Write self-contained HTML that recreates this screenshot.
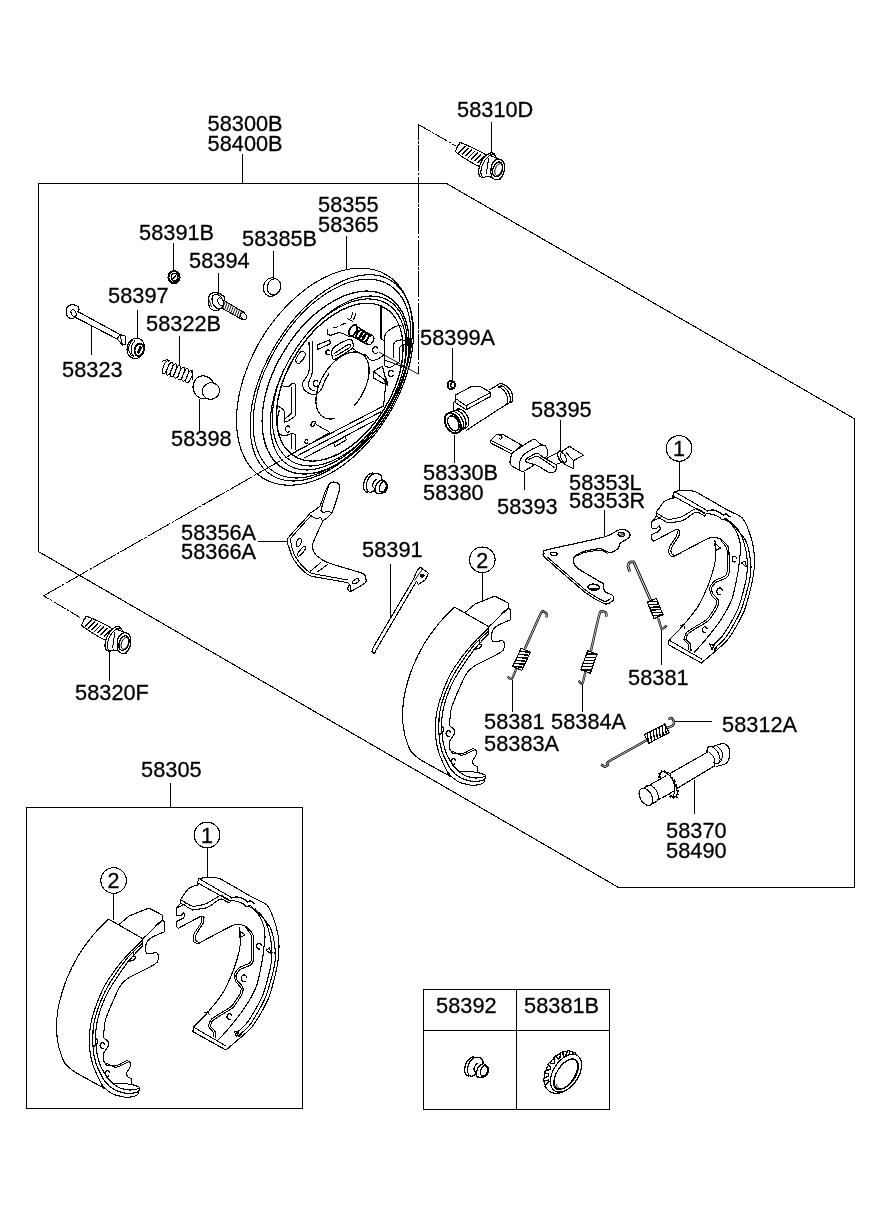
<!DOCTYPE html>
<html><head><meta charset="utf-8"><title>Rear wheel brake</title>
<style>
html,body{margin:0;padding:0;background:#fff;}
svg{display:block;will-change:transform;font-family:"Liberation Sans",Arial,sans-serif;}
svg *{stroke:#000;shape-rendering:crispEdges;stroke-linecap:butt;stroke-linejoin:round;}
svg text{stroke:#000;stroke-width:0.3px;fill:#000;}
</style></head><body>
<svg width="886" height="1211" viewBox="0 0 886 1211">
<rect x="0" y="0" width="886" height="1211" fill="#fff" style="stroke:none"/>
<path d="M38.5 183.5 L446.5 183.5 L854.5 418.8 L854.5 887.2 L618.0 887.2 L38.5 551.6 Z" stroke-width="1.1" fill="none" />
<line x1="242.5" y1="154" x2="242.5" y2="183.5" stroke-width="1.1" />
<rect x="26.5" y="807.5" width="276" height="301" stroke-width="1.1" fill="none"/>
<line x1="170.5" y1="783" x2="170.5" y2="807" stroke-width="1.1" />
<rect x="423.5" y="989.5" width="186" height="120" stroke-width="1.1" fill="none"/>
<line x1="423.5" y1="1030.5" x2="609.5" y2="1030.5" stroke-width="1.1" />
<line x1="516.5" y1="989.5" x2="516.5" y2="1109.5" stroke-width="1.1" />
<line x1="418.5" y1="124.5" x2="418.5" y2="374.3" stroke-width="1.0" stroke-dasharray="26 1.5 2.5 1.5" stroke-dashoffset="11"/>
<line x1="418.5" y1="124.5" x2="456" y2="146" stroke-width="1.0" stroke-dasharray="14 1.5 2.5 1.5"/>
<line x1="43.6" y1="595.8" x2="80" y2="617.5" stroke-width="1.0" stroke-dasharray="14 1.5 2.5 1.5" stroke-dashoffset="8"/>
<text transform="translate(207.6 130.5) scale(0.972 1)" font-size="22.4">58300B</text>
<text transform="translate(207.6 150.5) scale(0.972 1)" font-size="22.4">58400B</text>
<text transform="translate(457.1 116.5) scale(0.972 1)" font-size="22.4">58310D</text>
<text transform="translate(318.1 211.5) scale(0.972 1)" font-size="22.4">58355</text>
<text transform="translate(318.1 231.5) scale(0.972 1)" font-size="22.4">58365</text>
<text transform="translate(139.1 240.0) scale(0.972 1)" font-size="22.4">58391B</text>
<text transform="translate(242.1 245.5) scale(0.972 1)" font-size="22.4">58385B</text>
<text transform="translate(189.1 267.5) scale(0.972 1)" font-size="22.4">58394</text>
<text transform="translate(108.1 303.0) scale(0.972 1)" font-size="22.4">58397</text>
<text transform="translate(146.1 330.5) scale(0.972 1)" font-size="22.4">58322B</text>
<text transform="translate(62.1 376.5) scale(0.972 1)" font-size="22.4">58323</text>
<text transform="translate(171.1 446.0) scale(0.972 1)" font-size="22.4">58398</text>
<text transform="translate(420.1 344.5) scale(0.972 1)" font-size="22.4">58399A</text>
<text transform="translate(531.1 416.5) scale(0.972 1)" font-size="22.4">58395</text>
<text transform="translate(423.1 479.7) scale(0.972 1)" font-size="22.4">58330B</text>
<text transform="translate(423.1 500.0) scale(0.972 1)" font-size="22.4">58380</text>
<text transform="translate(497.1 513.5) scale(0.972 1)" font-size="22.4">58393</text>
<text transform="translate(569.1 490.0) scale(0.972 1)" font-size="22.4">58353L</text>
<text transform="translate(569.1 507.5) scale(0.972 1)" font-size="22.4">58353R</text>
<text transform="translate(181.1 539.5) scale(0.972 1)" font-size="22.4">58356A</text>
<text transform="translate(181.1 558.5) scale(0.972 1)" font-size="22.4">58366A</text>
<text transform="translate(362.1 557.0) scale(0.972 1)" font-size="22.4">58391</text>
<text transform="translate(628.1 684.5) scale(0.972 1)" font-size="22.4">58381</text>
<text transform="translate(484.1 728.5) scale(0.972 1)" font-size="22.4">58381</text>
<text transform="translate(551.1 728.5) scale(0.972 1)" font-size="22.4">58384A</text>
<text transform="translate(484.1 750.5) scale(0.972 1)" font-size="22.4">58383A</text>
<text transform="translate(722.1 731.5) scale(0.972 1)" font-size="22.4">58312A</text>
<text transform="translate(666.1 837.5) scale(0.972 1)" font-size="22.4">58370</text>
<text transform="translate(666.1 858.2) scale(0.972 1)" font-size="22.4">58490</text>
<text transform="translate(75.1 699.5) scale(0.972 1)" font-size="22.4">58320F</text>
<text transform="translate(141.1 777.1) scale(0.972 1)" font-size="22.4">58305</text>
<text transform="translate(436.1 1012.8) scale(0.972 1)" font-size="22.4">58392</text>
<text transform="translate(524.1 1012.8) scale(0.972 1)" font-size="22.4">58381B</text>
<ellipse cx="325.0" cy="376.7" rx="118.94" ry="74.02" transform="rotate(-58.6 325.0 376.7)" stroke-width="1.1" fill="#fff" />
<ellipse cx="331.3" cy="377.85" rx="114.21" ry="64.73" transform="rotate(-58.6 331.3 377.85)" stroke-width="1.1" fill="none" />
<ellipse cx="331.95" cy="378.55" rx="109.87" ry="63.53" transform="rotate(-58.6 331.95 378.55)" stroke-width="1.1" fill="none" />
<ellipse cx="335.6" cy="382.55" rx="100.61" ry="60.36" transform="rotate(-58.6 335.6 382.55)" stroke-width="1.3" fill="none" />
<ellipse cx="338.7" cy="383.0" rx="96.36" ry="54.42" transform="rotate(-58.6 338.7 383.0)" stroke-width="1.1" fill="none" />
<ellipse cx="339.15" cy="382.45" rx="92.04" ry="54.57" transform="rotate(-58.6 339.15 382.45)" stroke-width="1.1" fill="none" />
<ellipse cx="339.75" cy="382.15" rx="86.8" ry="51.81" transform="rotate(-58.6 339.75 382.15)" stroke-width="1.4" fill="none" />
<path d="M335.0 418.5 L331.5 419.0 L328.3 418.9 L325.3 418.1 L322.7 416.7 L320.4 414.7 L318.6 412.2 L317.2 409.1 L316.3 405.6 L315.9 401.7 L316.0 397.5 L316.7 393.0 L317.8 388.5 L319.4 383.8 L321.4 379.2 L323.9 374.7 L326.7 370.4 L329.8 366.4 L333.2 362.8 L336.7 359.6 L340.4 356.9 L344.1 354.8 L347.7 353.2 L351.3 352.3 L354.7 352.0 L357.8 352.3 L360.7 353.3 L363.2 354.9 L365.3 357.1 L367.0 359.9 L368.2 363.1 L368.9 366.8 L369.1 370.8 L368.8 375.1 L368.0 379.6 L366.7 384.2 L364.9 388.8 L362.7 393.4 L360.1 397.9 L357.2 402.0 L354.0 405.9" stroke-width="1.2" fill="none" />
<path d="M309.0 341.9 C309.0 346.8 310.1 364.2 309.0 371.0 C307.9 377.8 303.5 379.7 302.7 382.8 C301.9 385.9 302.9 387.6 304.0 389.4 C305.1 391.2 307.3 392.6 309.3 393.4 C311.3 394.2 313.9 394.8 315.9 394.1 C317.9 393.4 319.7 391.7 321.2 389.4 C322.7 387.1 323.8 382.8 325.1 380.2 C326.4 377.6 328.4 374.7 329.1 373.6" stroke-width="1.1" fill="none" />
<path d="M312.6 341.0 C312.6 346.0 313.3 364.0 312.6 371.0 C311.9 378.0 309.0 379.9 308.5 382.8 C308.0 385.7 308.8 387.1 309.8 388.5 C310.8 389.9 313.7 390.6 314.5 391.0" stroke-width="1.1" fill="none" />
<path d="M317.9 385.2 A2.6 3.1 0 1 1 317.9 381.8" stroke-width="1.2" fill="none" />
<path d="M295.9 359.0 C296.6 357.2 299.5 352.7 301.0 351.6 C302.5 350.5 304.0 351.8 304.7 352.4 C305.4 353.0 306.3 353.5 305.4 355.3 C304.5 357.1 301.0 362.2 299.5 363.4 C298.0 364.6 297.2 363.3 296.6 362.6 C296.0 361.9 295.2 360.8 295.9 359.0 Z" stroke-width="1.1" fill="none" />
<path d="M317.1 345.0 L329.6 339.9 L330.4 343.6 L317.9 349.4 Z" stroke-width="1.1" fill="none" />
<path d="M331.8 351.6 C332.0 349.9 331.4 349.1 334.0 347.2 C336.6 345.2 344.3 341.1 347.2 339.9 C350.1 338.7 350.6 339.2 351.6 339.9 C352.6 340.6 353.1 342.8 353.1 344.3 C353.1 345.8 354.5 346.2 351.6 348.7 C348.7 351.1 338.7 357.5 335.5 359.0 C332.3 360.5 333.2 358.7 332.6 357.5 C332.0 356.3 331.6 353.3 331.8 351.6 Z" stroke-width="1.2" fill="none" />
<path d="M334.0 353.5 C336.4 352.0 346.1 345.3 348.7 344.3 C351.3 343.3 351.7 345.6 349.5 347.5 C347.3 349.4 337.8 354.6 335.5 356.0" stroke-width="1.1" fill="none" />
<path d="M329.7 353.7 A2.0 2.4 0 1 1 329.7 351.1" stroke-width="1.2" fill="none" />
<path d="M327.4 328.9 L327.4 334.0 L330.4 335.5 L338.4 332.6 L342.8 333.3 L350.2 337.0" stroke-width="1.1" fill="none" />
<line x1="332.6" y1="328.2" x2="338.4" y2="326.7" stroke-width="1.0" />
<line x1="340" y1="325.5" x2="346" y2="323" stroke-width="1.0" />
<line x1="347.2" y1="318.6" x2="353.1" y2="321.5" stroke-width="1.0" />
<line x1="353.1" y1="312" x2="350.5" y2="319" stroke-width="1.0" />
<line x1="356" y1="313" x2="353.5" y2="320" stroke-width="1.0" />
<line x1="354.6" y1="325.2" x2="372.2" y2="335.5" stroke-width="1.1" />
<line x1="350.9" y1="335.5" x2="367.8" y2="345" stroke-width="1.1" />
<ellipse cx="353" cy="330.4" rx="3.3" ry="6" transform="rotate(30 353 330.4)" stroke-width="1.8" fill="none" />
<ellipse cx="359.5" cy="334.2" rx="2.4" ry="4.6" transform="rotate(30 359.5 334.2)" stroke-width="1.8" fill="none" />
<ellipse cx="362.5" cy="336" rx="2.4" ry="4.6" transform="rotate(30 362.5 336)" stroke-width="1.8" fill="none" />
<ellipse cx="365.5" cy="337.7" rx="2.4" ry="4.6" transform="rotate(30 365.5 337.7)" stroke-width="1.8" fill="none" />
<ellipse cx="370.3" cy="340.2" rx="3.0" ry="5.0" transform="rotate(30 370.3 340.2)" stroke-width="1.3" fill="#fff" />
<path d="M353.1 348.7 C354.3 349.6 358.2 352.7 360.4 353.8 C362.6 354.9 364.7 354.3 366.3 355.3 C367.9 356.3 368.3 359.0 370.0 359.7 C371.7 360.4 374.5 360.3 376.6 359.7 C378.7 359.1 380.9 356.9 382.4 356.0 C383.9 355.1 384.9 354.8 385.4 354.6" stroke-width="1.1" fill="none" />
<path d="M377.9 352.0 A2.8 3.4 0 1 1 377.9 348.4" stroke-width="1.2" fill="none" />
<path d="M381.0 306.1 L381.0 338.4 L384.6 341.4" stroke-width="1.1" fill="none" />
<path d="M384.6 366.0 C384.6 361.9 384.5 346.7 384.6 341.4 C384.7 336.1 384.5 336.0 385.4 334.0 C386.3 332.0 387.5 331.1 389.8 329.6 C392.1 328.1 397.4 325.7 399.3 325.2 C401.2 324.7 401.1 326.4 401.5 326.7" stroke-width="1.1" fill="none" />
<path d="M393.4 357.5 C393.4 355.6 393.0 348.5 393.4 345.8 C393.8 343.1 394.2 342.4 395.6 341.4 C397.0 340.4 399.8 339.9 401.5 339.9 C403.2 339.9 405.2 341.1 405.9 341.4" stroke-width="1.1" fill="none" />
<path d="M405.9 344.3 C405.2 344.6 402.6 345.1 401.5 345.8 C400.4 346.5 399.7 346.5 399.3 348.7 C398.9 350.9 399.3 357.3 399.3 359.0" stroke-width="1.1" fill="none" />
<path d="M384.6 366.0 L389.8 367.8 L399.3 362.0 L399.3 359.0" stroke-width="1.0" fill="none" />
<line x1="385.4" y1="360.4" x2="405.9" y2="367.8" stroke-width="1.0" />
<path d="M373.6 371.4 L382.4 366.3 L386.8 383.9 L383.9 383.9 L373.6 378.0 Z" stroke-width="1.1" fill="none" />
<line x1="373.6" y1="371.4" x2="386" y2="381" stroke-width="1.0" />
<path d="M393.2 375.3 A2.6 3.1 0 1 1 393.2 371.9" stroke-width="1.2" fill="none" />
<path d="M384 381 L388 386 L386.5 379 Z" stroke-width="1.0" fill="#000" />
<path d="M280.9 385.5 C282.1 385.7 286.2 387.1 288.1 386.8 C290.0 386.5 290.9 383.9 292.1 383.5 C293.3 383.1 294.8 384.1 295.4 384.2" stroke-width="1.1" fill="none" />
<path d="M295.4 384.2 L295.4 415.9 L288.1 421.1 L284.8 421.1" stroke-width="1.1" fill="none" />
<path d="M291.4 386.8 L291.4 413.2 L285.5 418.5" stroke-width="1.1" fill="none" />
<path d="M275.6 405.3 C276.5 405.7 279.5 407.0 280.9 407.9 C282.3 408.8 283.6 410.2 284.2 410.6" stroke-width="1.1" fill="none" />
<line x1="284.2" y1="410.6" x2="284.2" y2="422.5" stroke-width="1.1" />
<path d="M279.5 410.0 C279.2 411.3 277.9 414.6 277.6 418.0 C277.3 421.4 277.2 427.7 277.6 430.4 C278.0 433.1 279.0 433.5 280.2 434.4 C281.4 435.3 282.9 435.8 284.8 435.7 C286.7 435.6 289.6 433.9 291.4 433.7 C293.2 433.5 294.7 434.3 295.4 434.4" stroke-width="1.1" fill="none" />
<line x1="295.4" y1="434.4" x2="295.4" y2="450.2" stroke-width="1.1" />
<line x1="291.4" y1="434.4" x2="291.4" y2="448.9" stroke-width="1.1" />
<path d="M290.1 430.8 A2.6 3.1 0 1 1 290.1 427.4" stroke-width="1.2" fill="none" />
<path d="M307.8 442.6 A1.6 1.9 0 1 1 307.8 440.6" stroke-width="1.2" fill="none" />
<ellipse cx="313.2" cy="423.8" rx="1.6" ry="3" transform="rotate(35 313.2 423.8)" stroke-width="1.2" fill="none" />
<line x1="315.9" y1="424.5" x2="329.1" y2="431.7" stroke-width="1.0" />
<line x1="292.1" y1="453.4" x2="383.5" y2="406" stroke-width="1.1" />
<line x1="297.7" y1="455.6" x2="381.2" y2="411.6" stroke-width="1.1" />
<line x1="304.5" y1="457.9" x2="374.5" y2="420.6" stroke-width="1.1" />
<line x1="385.8" y1="384.5" x2="383.5" y2="406" stroke-width="1.1" />
<path d="M333.8 443.2 L345.1 436.4 L346.3 439.8 L335.0 446.6 Z" stroke-width="1.1" fill="none" />
<line x1="43.6" y1="595.8" x2="330" y2="432.3" stroke-width="1.0" stroke-dasharray="26 1.5 2.5 1.5" stroke-dashoffset="6"/>
<line x1="418.5" y1="374.3" x2="379" y2="352" stroke-width="0.9" />
<line x1="346" y1="235.5" x2="346" y2="268.5" stroke-width="1.0" />
<path d="M67.0 307.5 C67.3 306.8 68.7 305.6 69.3 305.3 C69.9 305.0 71.7 304.8 72.5 304.8 C73.3 304.8 75.8 305.1 76.5 305.5 C77.2 305.9 78.6 307.3 78.8 308.0 C79.0 308.7 78.9 310.6 78.6 311.5 C78.3 312.4 77.2 315.2 76.5 316.0 C75.8 316.8 73.8 318.4 73.0 318.6 C72.2 318.8 70.0 318.4 69.3 318.0 C68.6 317.6 67.1 315.8 66.8 315.0 C66.5 314.2 66.3 311.9 66.3 311.0 C66.3 310.1 66.7 308.2 67.0 307.5 Z" stroke-width="1.2" fill="#fff" />
<path d="M76.4 310.8 L119.9 334.5 L125.5 336.2 L125.5 344.1 L122.7 345.2 L117.1 339.0 L73.6 316.4" stroke-width="1.1" fill="#fff" />
<line x1="119.9" y1="334.5" x2="117.1" y2="339" stroke-width="1.0" />
<line x1="119.9" y1="334.5" x2="122.7" y2="345.2" stroke-width="1.0" />
<ellipse cx="73.6" cy="313.1" rx="2.3" ry="3.6" transform="rotate(-25 73.6 313.1)" stroke-width="1.1" fill="#fff" />
<line x1="91.3" y1="326" x2="91.3" y2="354.5" stroke-width="1.0" />
<ellipse cx="135.8" cy="348.3" rx="8.7" ry="10.3" transform="rotate(15 135.8 348.3)" stroke-width="1.1" fill="#fff" />
<path d="M131.5 356.0 C131.2 355.3 129.3 352.5 129.0 351.0 C128.7 349.5 128.8 346.4 129.3 345.0 C129.8 343.6 132.1 340.9 132.5 340.3" stroke-width="1.0" fill="none" />
<path d="M134.0 357.3 C133.6 356.6 131.6 353.6 131.3 352.0 C131.0 350.4 131.1 347.0 131.6 345.5 C132.1 344.0 134.5 341.2 135.0 340.5" stroke-width="1.0" fill="none" />
<ellipse cx="139.2" cy="349.8" rx="4.6" ry="6.2" transform="rotate(15 139.2 349.8)" stroke-width="1.9" fill="#fff" />
<path d="M137.8 352.0 L140.3 346.3 L141.3 347.5 L138.9 353.2 Z" stroke-width="1.3" fill="#000" />
<line x1="137.6" y1="310" x2="137.6" y2="338.5" stroke-width="1.0" />
<ellipse cx="174" cy="277.2" rx="5.6" ry="6.2" transform="rotate(0 174 277.2)" stroke-width="2.0" fill="#fff" />
<ellipse cx="174.5" cy="277.2" rx="3.2" ry="3.8" transform="rotate(0 174.5 277.2)" stroke-width="1.6" fill="none" />
<line x1="171.5" y1="280" x2="176.5" y2="274.5" stroke-width="1.3" />
<line x1="171" y1="275" x2="173" y2="273" stroke-width="1.3" />
<line x1="173.7" y1="243" x2="173.7" y2="271" stroke-width="1.0" />
<path d="M219.5 297.9 L244.8 312.9 L241.6 319.2 L216.4 305.0 Z" stroke-width="1.1" fill="#fff" />
<line x1="218.8" y1="305.6" x2="221.2" y2="298.6" stroke-width="0.9" />
<line x1="220.8" y1="306.8" x2="223.3" y2="299.8" stroke-width="0.9" />
<line x1="222.9" y1="308.0" x2="225.3" y2="301.1" stroke-width="0.9" />
<line x1="224.9" y1="309.2" x2="227.3" y2="302.3" stroke-width="0.9" />
<line x1="226.9" y1="310.4" x2="229.4" y2="303.5" stroke-width="0.9" />
<line x1="229.0" y1="311.6" x2="231.4" y2="304.7" stroke-width="0.9" />
<line x1="231.0" y1="312.8" x2="233.4" y2="305.9" stroke-width="0.9" />
<line x1="233.0" y1="314.0" x2="235.5" y2="307.1" stroke-width="0.9" />
<line x1="235.1" y1="315.2" x2="237.5" y2="308.3" stroke-width="0.9" />
<line x1="237.1" y1="316.4" x2="239.5" y2="309.5" stroke-width="0.9" />
<line x1="239.1" y1="317.7" x2="241.6" y2="310.7" stroke-width="0.9" />
<line x1="241.2" y1="318.9" x2="243.6" y2="311.9" stroke-width="0.9" />
<ellipse cx="243.6" cy="316.2" rx="2.6" ry="3.7" transform="rotate(-30 243.6 316.2)" stroke-width="1.0" fill="#fff" />
<path d="M208.5 298.0 C208.8 296.6 209.1 295.4 210.0 294.5 C210.9 293.6 212.5 292.8 214.0 292.6 C215.5 292.4 217.6 292.9 219.0 293.4 C220.4 293.9 221.6 294.7 222.5 295.5 C223.4 296.3 224.6 296.2 224.5 298.0 C224.4 299.8 223.0 304.0 222.0 306.0 C221.0 308.0 219.8 309.3 218.5 310.0 C217.2 310.7 215.4 310.7 214.0 310.4 C212.6 310.1 210.9 309.2 210.0 308.0 C209.1 306.8 208.6 304.7 208.3 303.0 C208.1 301.3 208.2 299.4 208.5 298.0 Z" stroke-width="1.2" fill="#fff" />
<ellipse cx="217.7" cy="301.6" rx="5.2" ry="7.8" transform="rotate(-25 217.7 301.6)" stroke-width="1.1" fill="#fff" />
<line x1="209" y1="299.5" x2="211.5" y2="307" stroke-width="0.9" />
<ellipse cx="220.6" cy="301.7" rx="2.6" ry="4" transform="rotate(-30 220.6 301.7)" stroke-width="1.0" fill="none" />
<line x1="218.2" y1="272.6" x2="218.2" y2="293" stroke-width="1.0" />
<ellipse cx="271.2" cy="287.1" rx="7.8" ry="9.3" transform="rotate(15 271.2 287.1)" stroke-width="1.1" fill="#fff" />
<ellipse cx="274" cy="286.9" rx="6.6" ry="8.2" transform="rotate(15 274 286.9)" stroke-width="1.1" fill="#fff" />
<line x1="273.8" y1="251" x2="273.8" y2="277.5" stroke-width="1.0" />
<path d="M161.8 362.5 C162.1 362.2 163.2 360.7 164.0 360.4 C164.8 360.1 166.6 359.9 167.5 360.0 C168.4 360.1 170.1 361.1 170.5 361.3" stroke-width="1.0" fill="none" />
<ellipse cx="165.6" cy="367.3" rx="2.3" ry="6.7" transform="rotate(22 165.6 367.3)" stroke-width="1.0" fill="none" />
<ellipse cx="169.6" cy="368.8" rx="2.3" ry="6.7" transform="rotate(22 169.6 368.8)" stroke-width="1.0" fill="none" />
<ellipse cx="173.5" cy="370.3" rx="2.3" ry="6.7" transform="rotate(22 173.5 370.3)" stroke-width="1.0" fill="none" />
<ellipse cx="177.4" cy="371.9" rx="2.3" ry="6.7" transform="rotate(22 177.4 371.9)" stroke-width="1.0" fill="none" />
<ellipse cx="181.4" cy="373.4" rx="2.3" ry="6.7" transform="rotate(22 181.4 373.4)" stroke-width="1.0" fill="none" />
<ellipse cx="185.4" cy="374.9" rx="2.3" ry="6.7" transform="rotate(22 185.4 374.9)" stroke-width="1.0" fill="none" />
<ellipse cx="189.3" cy="376.4" rx="2.3" ry="6.7" transform="rotate(22 189.3 376.4)" stroke-width="1.0" fill="none" />
<path d="M191.5 371.5 C191.7 372.0 192.7 373.9 192.8 375.0 C192.9 376.1 192.4 378.9 192.3 379.5" stroke-width="1.0" fill="none" />
<line x1="179.3" y1="336" x2="179.3" y2="366" stroke-width="1.0" />
<ellipse cx="203.7" cy="387.4" rx="10.6" ry="11.6" transform="rotate(-15 203.7 387.4)" stroke-width="1.1" fill="#fff" />
<ellipse cx="210.9" cy="391" rx="8.7" ry="8.2" transform="rotate(-15 210.9 391)" stroke-width="1.1" fill="#fff" />
<line x1="199.5" y1="398.5" x2="199.5" y2="431" stroke-width="1.0" />
<path d="M462.6 143.4 C467.2 145.4 484.0 152.3 487.0 156.2 C490.0 160.1 485.7 167.1 480.8 166.6 C475.9 166.1 461.5 156.4 457.5 153.4 C453.5 150.4 456.3 150.3 456.6 148.8 C456.9 147.3 458.2 145.1 459.2 144.2 C460.2 143.3 458.0 141.4 462.6 143.4 Z" stroke-width="1.1" fill="#fff" />
<line x1="458.7" y1="152.7" x2="465.5" y2="146.0" stroke-width="1.3" />
<line x1="461.8" y1="154.4" x2="468.6" y2="147.7" stroke-width="1.3" />
<line x1="464.9" y1="156.2" x2="471.8" y2="149.4" stroke-width="1.3" />
<line x1="468.1" y1="157.9" x2="474.9" y2="151.1" stroke-width="1.3" />
<line x1="471.2" y1="159.6" x2="478.1" y2="152.8" stroke-width="1.3" />
<line x1="474.4" y1="161.3" x2="481.2" y2="154.6" stroke-width="1.3" />
<line x1="477.5" y1="163.0" x2="484.3" y2="156.3" stroke-width="1.3" />
<ellipse cx="487.2" cy="165.2" rx="6.8" ry="13.4" transform="rotate(27 487.2 165.2)" stroke-width="1.2" fill="#fff" />
<ellipse cx="488.6" cy="165.8" rx="6.0" ry="12.4" transform="rotate(27 488.6 165.8)" stroke-width="1.0" fill="#fff" />
<path d="M490.0 155.5 L500.0 159.3 L500.0 179.5 L486.5 176.0" stroke-width="1.1" fill="#fff" />
<line x1="488.6" y1="158.5" x2="486.3" y2="174" stroke-width="1.0" />
<path d="M493.2 162.0 C494.4 160.4 496.4 159.2 498.0 159.0 C499.6 158.8 501.4 159.5 502.5 160.6 C503.6 161.7 504.3 163.3 504.5 165.5 C504.7 167.7 504.3 171.3 503.5 173.5 C502.7 175.7 501.2 177.8 499.8 178.8 C498.4 179.8 496.4 180.1 495.0 179.6 C493.6 179.1 492.2 177.8 491.5 176.0 C490.8 174.2 490.7 170.8 491.0 168.5 C491.3 166.2 492.0 163.6 493.2 162.0 Z" stroke-width="1.2" fill="#fff" />
<ellipse cx="497.6" cy="169.39999999999998" rx="4.7" ry="7.6" transform="rotate(20 497.6 169.39999999999998)" stroke-width="1.4" fill="#fff" />
<ellipse cx="498.6" cy="169.6" rx="3.4" ry="6.2" transform="rotate(20 498.6 169.6)" stroke-width="0.9" fill="none" />
<line x1="491.5" y1="122" x2="491.5" y2="153" stroke-width="1.0" />
<path d="M88.9 617.1 C93.5 619.1 110.3 626.0 113.3 629.9 C116.3 633.8 112.0 640.8 107.1 640.3 C102.2 639.8 87.8 630.1 83.8 627.1 C79.8 624.1 82.6 624.0 82.9 622.5 C83.2 621.0 84.5 618.8 85.5 617.9 C86.5 617.0 84.3 615.1 88.9 617.1 Z" stroke-width="1.1" fill="#fff" />
<line x1="85.0" y1="626.4" x2="91.8" y2="619.7" stroke-width="1.3" />
<line x1="88.1" y1="628.1" x2="94.9" y2="621.4" stroke-width="1.3" />
<line x1="91.2" y1="629.9" x2="98.1" y2="623.1" stroke-width="1.3" />
<line x1="94.4" y1="631.6" x2="101.2" y2="624.8" stroke-width="1.3" />
<line x1="97.5" y1="633.3" x2="104.4" y2="626.5" stroke-width="1.3" />
<line x1="100.7" y1="635.0" x2="107.5" y2="628.3" stroke-width="1.3" />
<line x1="103.8" y1="636.7" x2="110.6" y2="630.0" stroke-width="1.3" />
<ellipse cx="113.5" cy="638.9" rx="6.8" ry="13.4" transform="rotate(27 113.5 638.9)" stroke-width="1.2" fill="#fff" />
<ellipse cx="114.9" cy="639.5" rx="6.0" ry="12.4" transform="rotate(27 114.9 639.5)" stroke-width="1.0" fill="#fff" />
<path d="M116.3 629.2 L126.3 633.0 L126.3 653.2 L112.8 649.7" stroke-width="1.1" fill="#fff" />
<line x1="114.9" y1="632.2" x2="112.6" y2="647.7" stroke-width="1.0" />
<path d="M119.5 635.7 C120.7 634.1 122.8 632.9 124.3 632.7 C125.8 632.5 127.7 633.2 128.8 634.3 C129.9 635.4 130.6 637.1 130.8 639.2 C131.0 641.4 130.6 645.0 129.8 647.2 C129.0 649.4 127.5 651.5 126.1 652.5 C124.7 653.5 122.7 653.8 121.3 653.3 C119.9 652.8 118.5 651.6 117.8 649.7 C117.1 647.9 117.0 644.5 117.3 642.2 C117.6 639.9 118.3 637.3 119.5 635.7 Z" stroke-width="1.2" fill="#fff" />
<ellipse cx="123.9" cy="643.1" rx="4.7" ry="7.6" transform="rotate(20 123.9 643.1)" stroke-width="1.4" fill="#fff" />
<ellipse cx="124.9" cy="643.3" rx="3.4" ry="6.2" transform="rotate(20 124.9 643.3)" stroke-width="0.9" fill="none" />
<line x1="109.5" y1="650" x2="109.5" y2="680.5" stroke-width="1.0" />
<ellipse cx="451.3" cy="385" rx="3.6" ry="4.2" transform="rotate(0 451.3 385)" stroke-width="2.0" fill="#fff" />
<ellipse cx="453" cy="385.3" rx="2.2" ry="3" transform="rotate(0 453 385.3)" stroke-width="1.3" fill="none" />
<line x1="452.6" y1="348" x2="452.6" y2="380.5" stroke-width="1.0" />
<ellipse cx="506.3" cy="393.8" rx="5.4" ry="9.8" transform="rotate(-28 506.3 393.8)" stroke-width="1.2" fill="#fff" />
<ellipse cx="503.8" cy="395" rx="5.4" ry="9.8" transform="rotate(-28 503.8 395)" stroke-width="1.1" fill="#fff" />
<ellipse cx="501.3" cy="396.2" rx="5.4" ry="9.8" transform="rotate(-28 501.3 396.2)" stroke-width="1.1" fill="#fff" />
<path d="M453.4 402.0 L453.4 409.5 L466.0 431.0 L504.5 405.5 L497.5 385.0 L488.5 389.8" stroke-width="1.1" fill="#fff" style="stroke:none"/>
<path d="M466.0 430.5 L505.0 405.3" stroke-width="1.1" fill="none" />
<path d="M488.5 390.3 C489.8 389.6 494.9 386.8 496.5 385.8 C498.1 384.8 497.2 384.6 498.3 384.2 C499.4 383.8 502.2 383.4 503.0 383.3" stroke-width="1.1" fill="none" />
<path d="M455.8 394.8 L470.8 386.9 L479.5 386.1 L490.6 392.4 L490.6 396.3 L466.1 409.8 L455.8 402.7 Z" stroke-width="1.1" fill="#fff" />
<path d="M455.8 398.7 L466.1 405.8 L490.6 392.4" stroke-width="1.0" fill="none" />
<line x1="466.1" y1="405.8" x2="466.1" y2="409.8" stroke-width="1.0" />
<path d="M455.8 401.0 L453.4 402.3 L453.4 410.0" stroke-width="1.0" fill="none" />
<ellipse cx="461.5" cy="418.6" rx="6.4" ry="10.4" transform="rotate(-28 461.5 418.6)" stroke-width="1.2" fill="#fff" />
<ellipse cx="458.5" cy="420" rx="6.6" ry="10.6" transform="rotate(-28 458.5 420)" stroke-width="1.2" fill="#fff" />
<ellipse cx="455.5" cy="421.6" rx="7.0" ry="10.8" transform="rotate(-28 455.5 421.6)" stroke-width="1.2" fill="#fff" />
<ellipse cx="452.8" cy="423.2" rx="7.2" ry="10.8" transform="rotate(-28 452.8 423.2)" stroke-width="1.8" fill="#fff" />
<ellipse cx="453.4" cy="423.4" rx="5.0" ry="8.0" transform="rotate(-28 453.4 423.4)" stroke-width="1.3" fill="none" />
<line x1="454.2" y1="434.5" x2="454.2" y2="463" stroke-width="1.0" />
<path d="M561.3 451.8 L569.4 446.4 L583.6 455.2 L573.5 460.6 L573.5 468.8 L563.5 463.5" stroke-width="1.0" fill="none" />
<line x1="566" y1="452.5" x2="573.5" y2="460.6" stroke-width="1.0" />
<path d="M490.8 440.3 L496.9 434.2 L503.7 434.9 L521.5 445.0 L512.5 454.3 L490.8 443.0 Z" stroke-width="1.1" fill="#fff" />
<line x1="490.8" y1="440.3" x2="512.6" y2="451.2" stroke-width="1.0" />
<path d="M499.2 436.3 A1.5 1.8 0 1 1 499.2 438.3" stroke-width="1.1" fill="none" />
<path d="M511.2 455.9 C511.6 455.2 511.4 453.7 513.9 451.8 C516.4 449.9 530.2 440.9 532.8 439.6 C535.4 438.3 535.4 439.8 536.2 440.3 C537.0 440.8 538.6 443.1 539.6 443.7 C540.6 444.3 544.1 445.1 545.0 445.7 C545.9 446.3 546.8 447.8 547.0 449.1 C547.2 450.4 549.0 454.1 546.4 456.6 C543.8 459.1 527.7 469.1 524.7 470.8 C521.7 472.5 522.3 471.5 520.6 470.8 C518.9 470.1 511.7 466.2 510.5 464.7 C509.3 463.2 510.4 458.9 510.5 457.9 C510.6 456.9 510.8 456.6 511.2 455.9 Z" stroke-width="1.1" fill="#fff" />
<path d="M519.3 470.0 C519.3 469.3 519.1 466.1 519.3 464.7 C519.5 463.3 519.9 460.7 520.6 459.3 C521.3 457.9 522.2 455.7 524.7 453.9 C527.2 452.1 536.9 446.8 539.6 445.7 C542.3 444.6 544.3 445.7 545.0 445.7" stroke-width="1.1" fill="none" />
<path d="M546.5 458.5 L556.6 453.2 L564.0 461.5 L556.0 464.5" stroke-width="1.0" fill="#fff" />
<ellipse cx="561.3" cy="456.8" rx="3.0" ry="6.0" transform="rotate(-25 561.3 456.8)" stroke-width="1.6" fill="#fff" />
<ellipse cx="563.3" cy="457.5" rx="2.4" ry="5.0" transform="rotate(-25 563.3 457.5)" stroke-width="1.0" fill="#fff" />
<path d="M526.7 458.6 C527.8 457.9 535.2 453.3 536.9 453.2 C538.6 453.1 541.8 456.8 543.7 457.9 C545.6 459.0 554.7 463.5 555.9 464.7 C557.1 465.9 556.1 469.4 555.9 470.1 C555.7 470.8 554.5 471.9 553.8 472.1 C553.0 472.3 550.1 472.8 548.4 472.1 C546.7 471.4 539.1 466.4 536.9 465.4 C534.7 464.4 527.8 462.8 526.7 462.3 C525.6 461.8 525.5 460.9 525.5 460.5 C525.5 460.1 525.6 459.3 526.7 458.6 Z" stroke-width="1.1" fill="#fff" />
<path d="M528.5 459.5 C529.3 459.2 535.2 456.1 536.9 456.2 C538.5 456.3 543.4 460.0 545.0 461.0 C546.6 462.0 552.0 465.8 553.0 466.5 C554.0 467.2 555.2 468.3 555.5 468.5" stroke-width="1.0" fill="none" />
<line x1="560.6" y1="420" x2="560.6" y2="451.5" stroke-width="1.0" />
<line x1="524" y1="471.5" x2="524" y2="490" stroke-width="1.0" />
<ellipse cx="369.6" cy="482.6" rx="5.5" ry="9.9" transform="rotate(20 369.6 482.6)" stroke-width="1.3" fill="#fff" />
<ellipse cx="372.4" cy="483.0" rx="5.5" ry="9.7" transform="rotate(20 372.4 483.0)" stroke-width="1.2" fill="#fff" />
<path d="M374.8 473.6 C375.4 473.7 378.4 473.7 379.3 474.1 C380.2 474.5 381.3 475.9 381.6 476.7 C381.9 477.5 381.9 479.1 381.4 480.3 C380.9 481.5 378.9 484.4 378.0 486.0 C377.1 487.6 375.4 491.2 375.0 492.0" stroke-width="1.2" fill="#fff" />
<path d="M376.3 479.0 C375.9 479.5 373.6 481.7 373.2 482.8 C372.8 483.9 372.7 486.2 373.0 487.0 C373.3 487.8 375.4 488.6 375.8 488.8" stroke-width="1.1" fill="none" />
<path d="M375.5 492.7 C374.5 491.7 375.7 486.6 376.2 485.0 C376.7 483.4 378.7 481.5 379.5 480.8 C380.3 480.1 381.8 479.9 382.5 480.0 C383.2 480.1 384.4 480.8 385.0 481.5 C385.6 482.2 386.5 484.1 386.7 485.0 C386.9 485.9 386.7 487.5 386.3 488.5 C385.9 489.5 385.3 492.0 383.9 492.6 C382.5 493.2 376.5 493.7 375.5 492.7 Z" stroke-width="1.2" fill="#fff" />
<ellipse cx="382.9" cy="486.7" rx="3.3" ry="5.6" transform="rotate(22 382.9 486.7)" stroke-width="1.3" fill="#fff" />
<path d="M383.8 481.0 C384.1 481.4 385.9 482.9 386.3 483.8 C386.7 484.7 386.8 486.9 386.6 488.0 C386.4 489.1 384.9 491.5 384.6 492.0" stroke-width="2.2" fill="none" />
<path d="M331.0 482.6 C332.1 481.8 335.3 482.0 336.2 482.3 C337.1 482.6 339.2 484.6 339.5 485.3 C339.8 486.0 340.2 487.1 339.5 489.7 C338.8 492.3 333.6 509.0 332.4 511.8 C331.2 514.6 328.6 516.6 327.6 517.6 C326.6 518.6 324.2 518.9 322.8 521.4 C321.4 523.9 314.2 539.6 313.2 542.5 C312.2 545.4 312.8 548.9 313.2 550.2 C313.6 551.5 315.6 554.7 317.0 555.9 C318.4 557.1 323.1 560.9 327.6 562.6 C332.1 564.3 358.3 571.8 362.1 573.2 C365.9 574.6 365.1 576.0 365.4 577.0 C365.7 578.0 366.9 581.4 365.4 582.8 C363.9 584.2 352.4 590.8 350.6 591.4 C348.8 592.0 348.0 589.4 347.7 588.5 C347.4 587.6 351.3 584.0 347.7 582.8 C344.1 581.6 315.8 577.4 311.3 576.1 C306.8 574.9 304.3 571.9 302.6 570.3 C300.9 568.7 295.3 562.0 294.0 559.8 C292.7 557.6 289.8 550.4 289.2 548.3 C288.6 546.2 286.0 541.8 287.7 538.7 C289.4 535.6 304.3 520.1 306.5 517.6 C308.7 515.1 308.0 514.9 309.3 513.7 C310.6 512.5 318.3 508.3 319.9 506.0 C321.5 503.7 324.5 493.0 325.6 490.7 C326.7 488.4 329.9 483.4 331.0 482.6 Z" stroke-width="1.1" fill="#fff" />
<path d="M290.5 538.5 C290.6 539.5 291.4 546.0 292.0 548.0 C292.6 550.0 295.2 556.5 296.5 558.5 C297.8 560.5 302.9 566.5 304.5 568.0 C306.1 569.5 307.7 572.1 312.0 573.3 C316.3 574.5 344.1 579.3 347.7 580.0" stroke-width="1.0" fill="none" />
<path d="M290.5 538.5 C292.2 536.5 305.9 521.3 308.0 519.0 C310.1 516.7 311.1 515.9 311.5 515.5" stroke-width="1.0" fill="none" />
<path d="M328.5 486.0 C327.9 488.1 322.8 504.1 322.0 506.5 C321.2 508.9 320.9 509.9 321.0 510.5 C321.1 511.1 322.8 512.5 323.5 512.5 C324.2 512.5 327.2 510.9 328.0 511.0 C328.8 511.1 330.7 512.8 331.0 513.0" stroke-width="1.0" fill="none" />
<path d="M309.3 514.7 C310.0 515.1 314.9 518.2 316.0 518.5 C317.1 518.8 320.1 517.3 320.8 517.6 C321.5 517.9 322.6 521.0 322.8 521.4" stroke-width="1.0" fill="none" />
<ellipse cx="298.8" cy="542.5" rx="2.2" ry="4.2" transform="rotate(20 298.8 542.5)" stroke-width="1.1" fill="none" />
<ellipse cx="301.7" cy="551.1" rx="1.8" ry="6.2" transform="rotate(40 301.7 551.1)" stroke-width="1.1" fill="none" />
<line x1="310.3" y1="571.3" x2="320.8" y2="562.6" stroke-width="1.0" />
<line x1="317" y1="572.2" x2="327.6" y2="564.6" stroke-width="1.0" />
<ellipse cx="355.8" cy="581.3" rx="3.6" ry="1.9" transform="rotate(-30 355.8 581.3)" stroke-width="1.1" fill="none" />
<line x1="350.6" y1="591.4" x2="350.6" y2="585" stroke-width="1.0" />
<line x1="258" y1="541.5" x2="287.7" y2="541.5" stroke-width="1.0" />
<path d="M372.3 649.0 L413.5 579.3 L416.8 571.3 L420.0 567.1 L428.5 573.2 L425.4 579.9 L418.5 584.5 L416.5 581.3 L375.4 651.2 L374.6 653.6 L372.0 652.0 Z" stroke-width="1.1" fill="#fff" />
<line x1="414.5" y1="580.5" x2="422.5" y2="568.8" stroke-width="0.9" />
<ellipse cx="422.3" cy="575.7" rx="1.7" ry="1.4" transform="rotate(0 422.3 575.7)" stroke-width="1.4" fill="#000" />
<line x1="390.9" y1="563.5" x2="390.9" y2="617" stroke-width="1.0" />
<path d="M674.5 491.3 C675.7 491.2 682.5 490.5 685.0 490.6 C687.5 490.7 690.9 489.8 695.8 492.0 C700.7 494.2 721.1 506.5 726.6 509.6 C732.1 512.7 739.8 515.0 742.7 518.4 C745.6 521.8 750.1 534.4 751.5 539.0 C752.9 543.6 754.4 553.3 754.5 558.0 C754.6 562.7 753.9 573.0 752.7 579.3 C751.5 585.6 746.8 604.6 743.9 611.6 C741.0 618.6 732.2 633.9 727.8 639.5 C723.4 645.1 708.4 657.0 705.8 659.3" stroke-width="1.1" fill="none" />
<path d="M730.2 521.4 C732.0 523.6 743.2 535.8 745.6 540.4 C748.0 545.0 750.0 556.5 750.5 561.0 C751.0 565.5 750.9 573.6 749.8 579.3 C748.7 585.0 743.7 603.5 741.0 610.2 C738.3 616.9 729.5 632.0 726.3 636.6 C723.1 641.2 715.0 647.8 713.5 649.3" stroke-width="1.1" fill="none" />
<path d="M724.0 519.0 C725.4 519.9 733.7 524.4 736.0 527.0 C738.3 529.6 742.2 537.0 743.5 541.0 C744.8 545.0 747.0 556.5 747.3 561.0 C747.6 565.5 747.3 573.7 746.2 579.3 C745.1 584.9 740.6 602.6 738.0 609.0 C735.4 615.4 726.6 630.1 723.5 634.5 C720.4 638.9 712.9 645.1 711.5 646.5" stroke-width="1.1" fill="none" />
<path d="M674.5 491.3 L673.0 495.7 L673.0 497.9" stroke-width="1.1" fill="none" />
<line x1="675.2" y1="492" x2="706.8" y2="510.4" stroke-width="1.0" />
<line x1="673" y1="495.7" x2="705.3" y2="514" stroke-width="1.0" />
<path d="M673.5 496.3 l0.3 2.2" stroke-width="1.8" fill="none" />
<path d="M673.0 497.9 C672.0 498.3 666.2 499.8 664.2 501.5 C662.2 503.2 657.0 511.3 656.1 512.6" stroke-width="1.1" fill="none" />
<path d="M656.1 512.6 L656.1 516.0 L667.9 523.0" stroke-width="1.0" fill="none" />
<path d="M656.1 512.6 C657.3 513.3 665.4 518.8 667.9 519.2 C670.4 519.6 678.9 517.8 681.5 516.8 C684.1 515.8 692.6 510.0 694.3 509.2 C695.9 508.4 697.0 508.6 698.0 509.0 C699.0 509.4 703.9 512.6 704.6 513.0" stroke-width="1.0" fill="none" />
<path d="M667.9 523.0 C669.4 522.8 680.0 521.6 682.6 520.6 C685.2 519.6 692.8 513.6 694.3 512.8 C695.8 512.0 697.0 511.9 698.0 512.2 C699.0 512.5 703.8 515.8 704.6 516.0 C705.4 516.2 705.3 514.2 706.0 514.0 C706.7 513.8 710.7 514.0 712.0 514.3 C713.3 514.6 718.2 516.5 719.2 517.0 C720.2 517.5 721.4 519.6 722.0 519.8 C722.6 519.9 724.9 518.4 725.5 518.5 C726.1 518.6 727.8 520.4 728.0 520.6" stroke-width="1.1" fill="none" />
<path d="M706.5 511.0 C707.1 510.9 711.6 509.9 713.0 510.0 C714.4 510.1 719.0 512.0 720.0 512.5 C721.0 513.0 722.4 514.9 723.0 515.0 C723.6 515.1 725.3 513.8 726.0 514.0 C726.7 514.2 729.8 516.7 730.2 517.0" stroke-width="1.4" fill="none" />
<path d="M728.0 520.6 C730.0 523.7 737.3 532.8 739.8 539.0 C742.2 545.2 742.5 551.2 742.7 558.0 C742.9 564.8 742.0 577.7 741.2 580.0 C740.4 582.3 738.5 573.3 738.0 572.0" stroke-width="0.01" fill="none" />
<path d="M728.0 520.6 C728.8 521.6 733.6 526.6 735.0 529.0 C736.4 531.4 739.2 538.5 739.8 541.0 C740.4 543.5 740.5 547.8 740.5 550.0 C740.5 552.2 739.8 557.4 739.5 560.0 C739.2 562.6 738.9 567.5 738.0 572.0 C737.1 576.5 734.3 592.8 732.2 598.4 C730.1 604.0 723.5 615.6 720.4 620.4 C717.3 625.2 708.9 635.7 705.8 639.5 C702.7 643.3 695.4 651.2 694.0 652.7" stroke-width="1.1" fill="none" />
<path d="M656.1 516.5 C655.4 517.3 652.4 520.6 651.7 521.4" stroke-width="1.0" fill="none" />
<path d="M651.7 521.4 L651.7 528.0 L656.1 528.7 L659.1 525.8 L660.5 528.7 L658.3 531.6 L651.7 534.6 L651.7 539.0 L653.9 541.2 L676.0 529.4 L679.6 530.2 L678.9 536.0" stroke-width="1.1" fill="none" />
<path d="M678.9 536.0 C678.0 537.4 672.4 545.7 671.5 547.8 C670.6 549.9 671.1 552.7 671.5 553.6 C671.9 554.5 674.8 555.5 675.2 555.8" stroke-width="1.1" fill="none" />
<path d="M651.7 521.4 L663.0 516.0" stroke-width="1.0" fill="none" />
<path d="M651.7 534.6 L660.0 530.5" stroke-width="1.0" fill="none" />
<path d="M677.2 530.5 C677.1 531.1 677.4 534.0 676.5 536.0 C675.6 538.0 670.1 545.3 669.3 547.5 C668.5 549.7 668.9 553.4 669.3 554.5 C669.7 555.6 672.3 556.6 673.0 556.8 C673.7 557.0 674.9 555.9 675.2 555.8" stroke-width="1.0" fill="none" />
<path d="M675.2 555.8 C678.6 554.0 704.5 539.9 709.0 538.2 C713.5 536.5 718.2 538.0 720.0 538.7 C721.8 539.4 725.7 543.8 726.6 544.8 C727.5 545.8 728.5 546.5 728.8 549.2 C729.1 551.9 729.5 569.1 729.2 572.0 C729.0 574.9 727.6 576.9 726.3 577.9 C725.0 578.9 717.5 581.3 716.0 582.3 C714.5 583.3 711.9 587.0 711.6 588.2 C711.3 589.4 712.4 592.8 713.1 594.0 C713.8 595.2 717.8 598.6 718.2 599.9 C718.6 601.2 718.5 605.2 717.5 607.2 C716.5 609.2 710.8 618.3 708.7 620.4 C706.7 622.5 699.0 626.5 697.0 627.8 C695.0 629.1 689.3 632.4 688.2 633.6 C687.1 634.8 685.8 638.5 686.0 639.5 C686.2 640.5 689.9 642.7 690.4 643.9 C690.9 645.1 691.0 650.5 691.1 651.2" stroke-width="1.1" fill="none" />
<path d="M721.0 540.5 C721.4 541.0 724.4 544.5 725.0 545.5 C725.6 546.5 726.8 547.4 727.0 550.0 C727.2 552.6 727.4 568.9 727.2 571.5 C727.0 574.1 726.1 575.4 724.8 576.3 C723.5 577.2 716.1 579.6 714.6 580.8 C713.1 581.9 710.1 586.4 709.8 587.8 C709.5 589.2 710.9 593.7 711.5 595.0 C712.1 596.3 715.9 599.4 716.3 600.5 C716.7 601.6 716.5 604.6 715.6 606.5 C714.7 608.4 709.2 617.0 707.2 619.0 C705.2 621.0 698.0 624.9 696.0 626.2 C694.0 627.5 688.0 631.0 686.8 632.3 C685.6 633.6 683.8 638.3 684.0 639.5 C684.2 640.7 688.0 643.6 688.5 644.6 C689.0 645.6 689.0 649.5 689.0 650.0" stroke-width="1.0" fill="none" />
<path d="M714.8 540.4 C714.9 541.5 716.0 547.2 716.0 550.0 C716.0 552.8 715.5 560.8 714.6 564.7 C713.7 568.6 710.6 578.9 708.7 583.7 C706.8 588.5 701.3 601.0 698.4 605.8 C695.5 610.6 687.1 620.8 683.7 624.8 C680.3 628.8 670.8 638.4 669.1 640.2" stroke-width="1.1" fill="none" />
<path d="M714.8 543.5 L720.5 548.0 L715.5 550.5 Z" stroke-width="1.0" fill="none" />
<path d="M669.1 640.2 L668.3 644.6 L701.4 663.0 L705.8 659.3" stroke-width="1.1" fill="none" />
<line x1="669.1" y1="640.2" x2="702.1" y2="659.3" stroke-width="1.0" />
<path d="M680.0 626.0 L683.5 624.5 L685.0 628.5" stroke-width="1.0" fill="none" />
<path d="M735.8 561.6 A2.4 2.9 0 1 1 736.9 558.7" stroke-width="1.3" fill="none" />
<path d="M721.1 594.2 A2.8 3.4 0 1 1 722.3 590.8" stroke-width="1.3" fill="none" />
<path d="M706.2 632.1 A2.4 2.9 0 1 1 707.3 629.2" stroke-width="1.3" fill="none" />
<path d="M741.5 563.0 l3.5 -2 l1.5 6 Z" stroke-width="1.0" fill="none" />
<path d="M709.5 644.0 l5 0.5 l-2.5 5 Z" stroke-width="1.0" fill="none" />
<path d="M750.3 565.0 l1 3.5" stroke-width="1.6" fill="none" />
<path d="M714.2 650.5 l3 -3" stroke-width="1.0" fill="none" />
<path d="M629.8 571.5 C629.6 570.9 628.0 567.1 628.0 566.0 C628.0 564.9 629.2 562.8 629.8 562.3 C630.4 561.8 632.8 561.6 633.4 562.0 C634.0 562.4 633.2 560.8 635.2 565.3 C637.2 569.8 649.0 596.4 650.8 600.5" stroke-width="2.8" fill="none"  style="shape-rendering:geometricPrecision" stroke-linecap="round"/>
<path d="M629.8 571.5 C629.6 570.9 628.0 567.1 628.0 566.0 C628.0 564.9 629.2 562.8 629.8 562.3 C630.4 561.8 632.8 561.6 633.4 562.0 C634.0 562.4 633.2 560.8 635.2 565.3 C637.2 569.8 649.0 596.4 650.8 600.5" stroke-width="1.0" fill="none"  style="stroke:#fff;shape-rendering:geometricPrecision" stroke-linecap="round"/>
<path d="M658.1 618.0 C658.3 618.7 659.6 622.7 660.0 624.0 C660.4 625.3 661.1 628.6 661.6 629.0 C662.1 629.4 663.9 627.9 664.5 627.5 C665.1 627.1 666.4 625.6 666.6 625.3" stroke-width="2.2" fill="none"  style="shape-rendering:geometricPrecision" stroke-linecap="round"/>
<path d="M658.1 618.0 C658.3 618.7 659.6 622.7 660.0 624.0 C660.4 625.3 661.1 628.6 661.6 629.0 C662.1 629.4 663.9 627.9 664.5 627.5 C665.1 627.1 666.4 625.6 666.6 625.3" stroke-width="0.7" fill="none"  style="stroke:#fff;shape-rendering:geometricPrecision" stroke-linecap="round"/>
<path d="M647.3 602.2 L654.0 618.5 L663.0 614.7 L656.3 598.4 Z" fill="#fff" stroke-width="1.2" stroke-linejoin="round"/>
<line x1="647.2" y1="601.9" x2="657.5" y2="601.4" stroke-width="1.4" />
<line x1="648.3" y1="604.7" x2="658.7" y2="604.1" stroke-width="1.4" />
<line x1="649.4" y1="607.4" x2="659.8" y2="606.8" stroke-width="1.4" />
<line x1="650.5" y1="610.1" x2="660.9" y2="609.5" stroke-width="1.4" />
<line x1="651.6" y1="612.8" x2="662.0" y2="612.2" stroke-width="1.4" />
<line x1="652.8" y1="615.5" x2="663.1" y2="615.0" stroke-width="1.4" />
<line x1="661.6" y1="630" x2="661.6" y2="665" stroke-width="1.0" />
<path d="M546.3 617.4 C546.4 617.0 547.1 614.9 546.8 614.2 C546.5 613.5 544.5 611.9 543.8 611.8 C543.1 611.7 543.0 609.2 540.8 613.5 C538.6 617.8 526.7 644.9 524.8 649.0" stroke-width="2.4" fill="none"  style="shape-rendering:geometricPrecision" stroke-linecap="round"/>
<path d="M546.3 617.4 C546.4 617.0 547.1 614.9 546.8 614.2 C546.5 613.5 544.5 611.9 543.8 611.8 C543.1 611.7 543.0 609.2 540.8 613.5 C538.6 617.8 526.7 644.9 524.8 649.0" stroke-width="0.8" fill="none"  style="stroke:#fff;shape-rendering:geometricPrecision" stroke-linecap="round"/>
<path d="M516.6 668.0 C516.1 669.2 513.0 677.1 512.2 678.3 C511.4 679.5 510.0 678.7 509.5 678.5 C509.0 678.3 508.0 676.6 507.8 676.3" stroke-width="2.2" fill="none"  style="shape-rendering:geometricPrecision" stroke-linecap="round"/>
<path d="M516.6 668.0 C516.1 669.2 513.0 677.1 512.2 678.3 C511.4 679.5 510.0 678.7 509.5 678.5 C509.0 678.3 508.0 676.6 507.8 676.3" stroke-width="0.7" fill="none"  style="stroke:#fff;shape-rendering:geometricPrecision" stroke-linecap="round"/>
<path d="M521.2 648.2 L512.8 666.2 L521.8 670.4 L530.2 652.4 Z" fill="#fff" stroke-width="1.2" stroke-linejoin="round"/>
<line x1="519.7" y1="651.3" x2="530.3" y2="652.3" stroke-width="1.4" />
<line x1="518.3" y1="654.3" x2="528.9" y2="655.3" stroke-width="1.4" />
<line x1="516.9" y1="657.3" x2="527.5" y2="658.3" stroke-width="1.4" />
<line x1="515.5" y1="660.3" x2="526.1" y2="661.3" stroke-width="1.4" />
<line x1="514.1" y1="663.3" x2="524.7" y2="664.3" stroke-width="1.4" />
<line x1="512.7" y1="666.3" x2="523.3" y2="667.3" stroke-width="1.4" />
<line x1="512.5" y1="680" x2="512.5" y2="712" stroke-width="1.0" />
<path d="M606.5 616.7 C606.4 616.3 606.5 613.6 606.0 613.0 C605.5 612.4 603.3 611.5 602.5 611.6 C601.7 611.7 600.9 609.3 599.5 614.0 C598.1 618.7 591.8 647.1 590.8 651.5" stroke-width="2.4" fill="none"  style="shape-rendering:geometricPrecision" stroke-linecap="round"/>
<path d="M606.5 616.7 C606.4 616.3 606.5 613.6 606.0 613.0 C605.5 612.4 603.3 611.5 602.5 611.6 C601.7 611.7 600.9 609.3 599.5 614.0 C598.1 618.7 591.8 647.1 590.8 651.5" stroke-width="0.8" fill="none"  style="stroke:#fff;shape-rendering:geometricPrecision" stroke-linecap="round"/>
<path d="M585.6 671.0 C585.2 672.4 583.2 681.9 582.6 683.3 C582.0 684.7 580.9 683.3 580.5 683.0 C580.1 682.7 579.0 681.0 578.8 680.7" stroke-width="2.2" fill="none"  style="shape-rendering:geometricPrecision" stroke-linecap="round"/>
<path d="M585.6 671.0 C585.2 672.4 583.2 681.9 582.6 683.3 C582.0 684.7 580.9 683.3 580.5 683.0 C580.1 682.7 579.0 681.0 578.8 680.7" stroke-width="0.7" fill="none"  style="stroke:#fff;shape-rendering:geometricPrecision" stroke-linecap="round"/>
<path d="M587.6 650.8 L580.9 669.8 L590.3 673.2 L597.0 654.2 Z" fill="#fff" stroke-width="1.2" stroke-linejoin="round"/>
<line x1="586.4" y1="654.1" x2="597.0" y2="654.1" stroke-width="1.4" />
<line x1="585.3" y1="657.2" x2="595.9" y2="657.3" stroke-width="1.4" />
<line x1="584.2" y1="660.4" x2="594.8" y2="660.4" stroke-width="1.4" />
<line x1="583.1" y1="663.6" x2="593.7" y2="663.6" stroke-width="1.4" />
<line x1="582.0" y1="666.7" x2="592.6" y2="666.8" stroke-width="1.4" />
<line x1="580.9" y1="669.9" x2="591.5" y2="669.9" stroke-width="1.4" />
<line x1="582.4" y1="685" x2="582.4" y2="712" stroke-width="1.0" />
<path d="M601.2 764.3 C601.6 764.6 603.6 766.6 604.4 766.7 C605.2 766.8 607.2 765.7 607.8 765.0 C608.4 764.3 604.9 763.9 609.5 761.0 C614.1 758.1 643.2 742.3 647.6 739.8" stroke-width="2.4" fill="none"  style="shape-rendering:geometricPrecision" stroke-linecap="round"/>
<path d="M601.2 764.3 C601.6 764.6 603.6 766.6 604.4 766.7 C605.2 766.8 607.2 765.7 607.8 765.0 C608.4 764.3 604.9 763.9 609.5 761.0 C614.1 758.1 643.2 742.3 647.6 739.8" stroke-width="0.8" fill="none"  style="stroke:#fff;shape-rendering:geometricPrecision" stroke-linecap="round"/>
<path d="M667.0 728.0 C667.7 727.7 672.2 726.2 673.0 725.4 C673.8 724.6 674.0 722.2 673.8 721.3 C673.6 720.4 671.9 718.2 671.3 718.0 C670.7 717.8 668.6 719.1 668.3 719.2" stroke-width="2.4" fill="none"  style="shape-rendering:geometricPrecision" stroke-linecap="round"/>
<path d="M667.0 728.0 C667.7 727.7 672.2 726.2 673.0 725.4 C673.8 724.6 674.0 722.2 673.8 721.3 C673.6 720.4 671.9 718.2 671.3 718.0 C670.7 717.8 668.6 719.1 668.3 719.2" stroke-width="0.8" fill="none"  style="stroke:#fff;shape-rendering:geometricPrecision" stroke-linecap="round"/>
<path d="M648.7 743.3 L669.2 732.6 L664.8 724.0 L644.3 734.7 Z" fill="#fff" stroke-width="1.2" stroke-linejoin="round"/>
<line x1="648.7" y1="743.3" x2="647.2" y2="733.2" stroke-width="1.3" />
<line x1="651.6" y1="741.7" x2="650.2" y2="731.7" stroke-width="1.3" />
<line x1="654.6" y1="740.2" x2="653.1" y2="730.1" stroke-width="1.3" />
<line x1="657.5" y1="738.7" x2="656.0" y2="728.6" stroke-width="1.3" />
<line x1="660.4" y1="737.2" x2="658.9" y2="727.1" stroke-width="1.3" />
<line x1="663.3" y1="735.6" x2="661.9" y2="725.6" stroke-width="1.3" />
<line x1="666.3" y1="734.1" x2="664.8" y2="724.0" stroke-width="1.3" />
<line x1="675" y1="721.5" x2="712" y2="721.5" stroke-width="1.0" />
<path d="M707.0 749.0 C708.3 748.5 716.5 745.1 718.5 744.5 C720.5 743.9 722.9 743.3 724.0 743.5 C725.1 743.7 727.3 745.5 728.0 746.5 C728.7 747.5 729.7 751.2 729.8 752.5 C729.9 753.8 729.6 756.7 729.2 758.0 C728.8 759.3 727.5 762.5 726.0 763.5 C724.5 764.5 717.6 766.1 716.5 766.5" stroke-width="1.1" fill="#fff" />
<ellipse cx="713.5" cy="755.2" rx="5.2" ry="9.6" transform="rotate(-30 713.5 755.2)" stroke-width="1.1" fill="#fff" />
<path d="M717.5 746.5 C718.0 747.0 720.9 749.2 721.5 750.5 C722.1 751.8 722.4 754.9 722.3 756.5 C722.2 758.1 720.7 761.7 720.5 762.5" stroke-width="1.0" fill="none" />
<path d="M645.9 787.2 L708.5 751.6 L714.4 766.0 L650.9 804.1" stroke-width="1.1" fill="#fff" style="stroke:none"/>
<line x1="645.9" y1="787.2" x2="708.5" y2="751.6" stroke-width="1.1" />
<line x1="652" y1="803.4" x2="714.4" y2="766" stroke-width="1.1" />
<path d="M708.5 751.6 C709.1 752.2 712.1 754.7 713.0 756.0 C713.9 757.3 714.8 760.2 715.0 761.5 C715.2 762.8 714.5 765.4 714.4 766.0" stroke-width="1.0" fill="none" />
<ellipse cx="668.6" cy="784.4" rx="5.8" ry="14.2" transform="rotate(-30 668.6 784.4)" stroke-width="1.1" fill="#fff" />
<ellipse cx="668.6" cy="784.4" rx="6.4" ry="14.8" transform="rotate(-30 668.6 784.4)" stroke-width="2.4" fill="none" stroke-dasharray="1.6 1.6"/>
<path d="M657.0 781.5 L669.0 774.5 L676.0 790.8 L661.0 799.0" stroke-width="1" fill="#fff" style="stroke:none"/>
<line x1="657.5" y1="780.7" x2="666" y2="775.7" stroke-width="1.1" />
<line x1="661.5" y1="798.2" x2="674" y2="791" stroke-width="1.1" />
<path d="M666.0 772.3 C666.7 773.0 670.4 775.8 671.5 777.5 C672.6 779.2 674.1 782.9 674.5 785.0 C674.9 787.1 674.6 791.4 674.3 793.0 C674.0 794.6 672.7 796.5 672.5 797.0" stroke-width="1.1" fill="none" />
<ellipse cx="651.5" cy="793.8" rx="5.8" ry="9.4" transform="rotate(-30 651.5 793.8)" stroke-width="1.0" fill="#fff" />
<path d="M641.5 789.5 L647.8 786.0 L656.3 801.5 L650.0 805.0" stroke-width="1" fill="#fff" style="stroke:none"/>
<line x1="641.8" y1="789.5" x2="648" y2="786" stroke-width="1.1" />
<line x1="650.2" y1="805" x2="656.5" y2="801.3" stroke-width="1.1" />
<ellipse cx="645.9" cy="796.8" rx="5.8" ry="9.4" transform="rotate(-30 645.9 796.8)" stroke-width="1.2" fill="#fff" />
<line x1="694.5" y1="780" x2="694.5" y2="813.5" stroke-width="1.0" />
<path d="M546.3 550.0 C551.9 548.5 597.1 538.9 603.8 537.1 C610.5 535.3 616.0 531.0 618.0 530.3 C620.0 529.6 623.7 529.3 624.8 529.6 C625.9 529.9 629.2 532.3 629.6 533.0 C630.0 533.7 630.2 536.3 629.6 537.1 C629.0 537.9 624.5 540.6 623.5 541.2 C622.5 541.8 619.8 543.3 619.4 543.9 C619.0 544.5 619.3 547.1 618.7 547.9 C618.1 548.7 613.6 551.6 612.6 552.0 C611.6 552.4 609.0 552.3 607.9 552.0 C606.8 551.7 602.6 548.7 600.4 548.6 C598.2 548.5 586.6 550.6 584.2 551.3 C581.8 552.0 575.7 555.1 574.7 556.1 C573.7 557.1 573.0 560.4 573.3 561.5 C573.6 562.6 575.1 566.4 577.4 568.2 C579.7 570.0 595.3 578.9 597.7 580.4 C600.1 581.9 602.5 582.8 603.1 583.8 C603.7 584.8 603.6 590.2 604.5 591.3 C605.4 592.4 611.8 594.5 612.6 595.3 C613.4 596.1 613.7 599.3 613.3 600.1 C612.9 600.9 609.5 603.2 608.6 603.5 C607.7 603.8 606.0 604.5 603.8 603.5 C601.6 602.5 591.0 596.9 585.5 592.6 C580.0 588.3 548.8 561.1 544.9 557.4 C541.0 553.7 544.1 554.0 544.2 553.3 C544.3 552.6 540.7 551.5 546.3 550.0 Z" stroke-width="1.2" fill="#fff" />
<path d="M546.9 556.7 C550.2 559.5 581.4 586.9 586.2 590.6 C591.0 594.3 602.4 600.8 604.5 601.4 C606.6 602.0 610.7 598.3 611.3 598.0" stroke-width="1.0" fill="none" />
<path d="M574.7 556.7 C575.7 556.3 581.6 553.4 584.2 552.7 C586.8 552.0 598.0 549.9 600.4 550.0 C602.8 550.1 607.1 553.0 607.9 553.3" stroke-width="1.0" fill="none" />
<ellipse cx="553.7" cy="554" rx="3.4" ry="1.7" transform="rotate(8 553.7 554)" stroke-width="1.3" fill="none" />
<ellipse cx="621.4" cy="534.4" rx="3.4" ry="2.0" transform="rotate(8 621.4 534.4)" stroke-width="1.3" fill="none" />
<ellipse cx="622" cy="535" rx="2.2" ry="1.1" transform="rotate(8 622 535)" stroke-width="0.9" fill="none" />
<ellipse cx="593.7" cy="587.2" rx="5.8" ry="2.9" transform="rotate(5 593.7 587.2)" stroke-width="1.6" fill="none" />
<line x1="588.5" y1="588.3" x2="599" y2="588.3" stroke-width="1.0" />
<line x1="604.2" y1="510" x2="604.2" y2="536.5" stroke-width="1.0" />
<path d="M454.4 607.0 C452.6 608.9 442.5 618.9 439.0 623.2 C435.5 627.5 427.4 638.6 424.3 643.7 C421.2 648.8 414.8 661.7 412.6 667.2 C410.4 672.7 406.5 685.4 405.3 690.6 C404.1 695.8 402.7 706.9 402.6 712.0 C402.5 717.1 403.5 729.4 404.5 734.0 C405.5 738.6 409.1 748.5 411.1 751.6 C413.1 754.7 420.2 759.4 421.4 760.4" stroke-width="1.1" fill="none" />
<line x1="421.4" y1="760.4" x2="451" y2="776.8" stroke-width="1.1" />
<line x1="454.4" y1="607" x2="488.9" y2="626.8" stroke-width="1.1" />
<path d="M464.7 612.8 L475.0 604.1 L494.8 596.0 L508.7 603.3 L508.7 607.7 L488.9 626.8" stroke-width="1.1" fill="none" />
<path d="M508.7 607.7 L504.0 611.5 L498.0 618.0" stroke-width="1.0" fill="none" />
<path d="M508.7 607.7 C508.8 607.9 510.8 609.9 510.9 610.7 C511.0 611.5 510.9 618.9 510.9 619.5" stroke-width="1.1" fill="none" />
<path d="M510.9 619.5 C509.7 620.1 499.4 624.4 497.7 625.4 C496.0 626.4 493.2 629.3 492.6 630.5 C492.0 631.7 491.0 636.8 491.1 637.8 C491.2 638.8 492.2 641.2 493.3 641.5 C494.4 641.8 501.9 640.6 502.9 640.8 C503.9 641.0 504.2 642.9 504.3 643.7 C504.4 644.5 504.2 648.6 503.6 649.6 C503.0 650.6 500.4 652.5 497.7 654.0 C495.0 655.5 477.9 663.9 475.0 665.7 C472.1 667.5 468.3 670.9 466.9 673.0 C465.5 675.1 461.0 684.5 459.6 687.7 C458.2 690.9 452.4 704.1 451.5 707.6 C450.6 711.1 449.4 723.2 449.6 725.2 C449.8 727.2 453.3 728.1 453.7 728.9 C454.1 729.7 454.7 732.9 454.4 734.0 C454.1 735.1 450.4 739.2 450.0 740.6 C449.6 742.0 449.3 747.5 449.6 748.7 C449.9 749.9 452.4 753.4 453.7 753.8 C455.0 754.2 462.2 753.6 464.0 753.1 C465.8 752.6 471.6 748.9 472.8 748.7 C474.0 748.5 476.1 750.2 476.4 750.9 C476.7 751.6 476.0 755.1 475.7 756.0 C475.4 756.9 473.0 759.6 472.8 760.4 C472.6 761.2 473.0 764.2 473.5 764.8 C474.0 765.4 477.5 766.3 477.9 767.0 C478.3 767.7 477.2 771.4 477.9 772.2 C478.6 773.0 484.5 774.6 485.2 775.1 C485.9 775.6 485.2 777.7 485.2 778.0" stroke-width="1.1" fill="none" />
<path d="M488.9 627.6 C487.0 629.5 475.2 640.7 471.3 645.2 C467.4 649.7 456.8 663.7 453.7 668.6 C450.6 673.5 445.3 685.2 443.4 690.0 C441.5 694.8 437.7 707.2 436.8 712.0 C435.9 716.8 435.2 729.5 435.4 734.0 C435.6 738.5 437.6 748.9 439.0 753.1 C440.4 757.3 445.7 769.1 447.8 772.2 C449.9 775.3 455.4 780.2 458.1 781.7 C460.9 783.2 470.1 785.2 472.8 785.4 C475.5 785.6 481.6 784.0 483.0 783.2 C484.4 782.4 485.0 778.6 485.2 778.0" stroke-width="1.1" fill="none" />
<path d="M488.9 630.5 C487.1 632.3 476.4 642.2 472.8 646.6 C469.2 651.0 458.8 666.0 455.9 670.8 C453.0 675.6 448.2 685.5 446.4 690.0 C444.6 694.5 440.6 707.2 439.8 712.0 C439.0 716.8 438.8 729.6 439.0 734.0 C439.2 738.4 440.7 747.7 442.0 751.6 C443.3 755.5 448.7 766.3 450.8 769.2 C452.9 772.1 458.4 776.6 461.0 778.0 C463.6 779.4 471.6 781.5 474.2 781.7 C476.8 781.9 483.4 780.0 484.5 779.8" stroke-width="1.1" fill="none" />
<path d="M488.9 633.4 C487.3 635.2 477.6 645.2 474.2 649.6 C470.8 654.0 460.8 668.6 458.1 673.0 C455.4 677.4 451.0 685.7 449.3 690.0 C447.6 694.3 443.5 707.2 442.7 712.0 C441.9 716.8 441.7 729.6 442.0 734.0 C442.3 738.4 444.3 748.0 445.6 751.6 C446.9 755.2 451.7 763.7 453.7 766.3 C455.7 768.9 461.6 773.8 464.0 775.1 C466.4 776.4 473.4 777.8 475.7 778.0 C478.0 778.2 484.2 776.8 485.2 776.6" stroke-width="1.1" fill="none" />
<line x1="488.9" y1="626.8" x2="488.9" y2="633.4" stroke-width="1.1" />
<path d="M479.4 638.6 C479.4 639.1 479.2 643.0 479.4 643.7 C479.6 644.4 481.6 644.8 481.6 645.2 C481.6 645.6 480.3 647.7 479.4 648.1 C478.5 648.5 473.5 649.5 472.8 649.6" stroke-width="1.2" fill="none" />
<path d="M452.0 751.0 C453.2 751.5 459.5 755.4 462.0 755.3 C464.5 755.2 472.2 750.8 473.5 750.2" stroke-width="1.0" fill="none" />
<line x1="459.6" y1="771.4" x2="477.9" y2="772.2" stroke-width="1.0" />
<path d="M449.8 736.1 A2.4 2.9 0 1 1 450.9 733.2" stroke-width="1.3" fill="none" />
<path d="M454.9 764.0 A2.4 2.9 0 1 1 456.0 761.1" stroke-width="1.3" fill="none" />
<path d="M441.5 726.0 C441.7 726.2 443.4 727.9 443.5 728.5 C443.6 729.1 442.9 731.9 442.5 732.5 C442.1 733.1 440.1 734.3 439.8 734.5" stroke-width="1.1" fill="none" />
<path d="M447.0 773.0 l4 3" stroke-width="1.6" fill="none" />
<circle cx="679.1" cy="448.4" r="12.8" stroke-width="1.1" fill="#fff"/>
<text x="679.1" y="456.09999999999997" font-size="21.5" text-anchor="middle">1</text>
<line x1="679.1" y1="461.2" x2="679.1" y2="490.6" stroke-width="1.0" />
<circle cx="482.3" cy="559.8" r="12.8" stroke-width="1.1" fill="#fff"/>
<text x="482.3" y="567.5" font-size="21.5" text-anchor="middle">2</text>
<line x1="482.3" y1="572.5999999999999" x2="482.3" y2="600" stroke-width="1.0" />
<path d="M108.4 919.0 C106.6 920.9 96.5 930.9 93.0 935.2 C89.5 939.5 81.4 950.6 78.3 955.7 C75.2 960.8 68.8 973.7 66.6 979.2 C64.4 984.7 60.5 997.4 59.3 1002.6 C58.1 1007.8 56.7 1018.9 56.6 1024.0 C56.5 1029.1 57.5 1041.4 58.5 1046.0 C59.5 1050.6 63.1 1060.5 65.1 1063.6 C67.1 1066.7 74.2 1071.4 75.4 1072.4" stroke-width="1.1" fill="none" />
<line x1="75.4" y1="1072.4" x2="105" y2="1088.8" stroke-width="1.1" />
<line x1="108.4" y1="919" x2="142.9" y2="938.8" stroke-width="1.1" />
<path d="M118.7 924.8 L129.0 916.1 L148.8 908.0 L162.7 915.3 L162.7 919.7 L142.9 938.8" stroke-width="1.1" fill="none" />
<path d="M162.7 919.7 L158.0 923.5 L152.0 930.0" stroke-width="1.0" fill="none" />
<path d="M162.7 919.7 C162.8 919.9 164.8 921.9 164.9 922.7 C165.0 923.5 164.9 930.9 164.9 931.5" stroke-width="1.1" fill="none" />
<path d="M164.9 931.5 C163.7 932.1 153.4 936.4 151.7 937.4 C150.0 938.4 147.2 941.3 146.6 942.5 C146.0 943.7 145.0 948.8 145.1 949.8 C145.2 950.8 146.2 953.2 147.3 953.5 C148.4 953.8 155.9 952.6 156.9 952.8 C157.9 953.0 158.2 954.9 158.3 955.7 C158.4 956.5 158.2 960.6 157.6 961.6 C157.0 962.6 154.4 964.5 151.7 966.0 C149.0 967.5 131.9 975.9 129.0 977.7 C126.1 979.5 122.3 982.9 120.9 985.0 C119.5 987.1 115.0 996.5 113.6 999.7 C112.2 1002.9 106.4 1016.1 105.5 1019.6 C104.6 1023.1 103.4 1035.2 103.6 1037.2 C103.8 1039.2 107.3 1040.1 107.7 1040.9 C108.1 1041.7 108.7 1044.9 108.4 1046.0 C108.1 1047.1 104.4 1051.2 104.0 1052.6 C103.6 1054.0 103.3 1059.5 103.6 1060.7 C103.9 1061.9 106.4 1065.4 107.7 1065.8 C109.0 1066.2 116.2 1065.6 118.0 1065.1 C119.8 1064.6 125.6 1060.9 126.8 1060.7 C128.0 1060.5 130.1 1062.2 130.4 1062.9 C130.7 1063.6 130.0 1067.1 129.7 1068.0 C129.4 1068.9 127.0 1071.6 126.8 1072.4 C126.6 1073.2 127.0 1076.2 127.5 1076.8 C128.0 1077.4 131.5 1078.3 131.9 1079.0 C132.3 1079.7 131.2 1083.4 131.9 1084.2 C132.6 1085.0 138.5 1086.6 139.2 1087.1 C139.9 1087.6 139.2 1089.7 139.2 1090.0" stroke-width="1.1" fill="none" />
<path d="M142.9 939.6 C141.0 941.5 129.2 952.7 125.3 957.2 C121.4 961.7 110.8 975.7 107.7 980.6 C104.6 985.5 99.3 997.2 97.4 1002.0 C95.5 1006.8 91.7 1019.2 90.8 1024.0 C89.9 1028.8 89.2 1041.5 89.4 1046.0 C89.6 1050.5 91.6 1060.9 93.0 1065.1 C94.4 1069.3 99.7 1081.1 101.8 1084.2 C103.9 1087.3 109.3 1092.2 112.1 1093.7 C114.8 1095.2 124.1 1097.2 126.8 1097.4 C129.5 1097.6 135.6 1096.0 137.0 1095.2 C138.4 1094.4 139.0 1090.6 139.2 1090.0" stroke-width="1.1" fill="none" />
<path d="M142.9 942.5 C141.1 944.3 130.4 954.2 126.8 958.6 C123.2 963.0 112.8 978.0 109.9 982.8 C107.0 987.6 102.2 997.5 100.4 1002.0 C98.6 1006.5 94.6 1019.2 93.8 1024.0 C93.0 1028.8 92.8 1041.6 93.0 1046.0 C93.2 1050.4 94.7 1059.7 96.0 1063.6 C97.3 1067.5 102.7 1078.3 104.8 1081.2 C106.9 1084.1 112.4 1088.6 115.0 1090.0 C117.6 1091.4 125.6 1093.5 128.2 1093.7 C130.8 1093.9 137.4 1092.0 138.5 1091.8" stroke-width="1.1" fill="none" />
<path d="M142.9 945.4 C141.3 947.2 131.6 957.2 128.2 961.6 C124.8 966.0 114.8 980.6 112.1 985.0 C109.4 989.4 105.0 997.7 103.3 1002.0 C101.6 1006.3 97.5 1019.2 96.7 1024.0 C95.9 1028.8 95.7 1041.6 96.0 1046.0 C96.3 1050.4 98.3 1060.0 99.6 1063.6 C100.9 1067.2 105.7 1075.7 107.7 1078.3 C109.7 1080.9 115.6 1085.8 118.0 1087.1 C120.4 1088.4 127.4 1089.8 129.7 1090.0 C132.0 1090.2 138.2 1088.8 139.2 1088.6" stroke-width="1.1" fill="none" />
<line x1="142.9" y1="938.8" x2="142.9" y2="945.4" stroke-width="1.1" />
<path d="M133.4 950.6 C133.4 951.1 133.2 955.0 133.4 955.7 C133.6 956.4 135.6 956.8 135.6 957.2 C135.6 957.6 134.3 959.7 133.4 960.1 C132.5 960.5 127.5 961.5 126.8 961.6" stroke-width="1.2" fill="none" />
<path d="M106.0 1063.0 C107.2 1063.5 113.5 1067.4 116.0 1067.3 C118.5 1067.2 126.2 1062.8 127.5 1062.2" stroke-width="1.0" fill="none" />
<line x1="113.6" y1="1083.4" x2="131.9" y2="1084.2" stroke-width="1.0" />
<path d="M103.8 1048.1 A2.4 2.9 0 1 1 104.9 1045.2" stroke-width="1.3" fill="none" />
<path d="M108.9 1076.0 A2.4 2.9 0 1 1 110.0 1073.1" stroke-width="1.3" fill="none" />
<path d="M95.5 1038.0 C95.7 1038.2 97.4 1039.8 97.5 1040.5 C97.6 1041.2 96.9 1043.9 96.5 1044.5 C96.1 1045.1 94.1 1046.3 93.8 1046.5" stroke-width="1.1" fill="none" />
<path d="M101.0 1085.0 l4 3" stroke-width="1.6" fill="none" />
<path d="M199.0 878.3 C200.2 878.2 207.0 877.5 209.5 877.6 C212.0 877.7 215.4 876.8 220.3 879.0 C225.2 881.2 245.6 893.5 251.1 896.6 C256.6 899.7 264.3 902.0 267.2 905.4 C270.1 908.8 274.6 921.4 276.0 926.0 C277.4 930.6 278.9 940.3 279.0 945.0 C279.1 949.7 278.4 960.0 277.2 966.3 C276.0 972.6 271.3 991.6 268.4 998.6 C265.5 1005.6 256.7 1020.9 252.3 1026.5 C247.9 1032.1 232.9 1044.0 230.3 1046.3" stroke-width="1.1" fill="none" />
<path d="M254.7 908.4 C256.5 910.6 267.7 922.8 270.1 927.4 C272.5 932.0 274.5 943.5 275.0 948.0 C275.5 952.5 275.4 960.6 274.3 966.3 C273.2 972.0 268.2 990.5 265.5 997.2 C262.8 1003.9 254.0 1019.0 250.8 1023.6 C247.6 1028.2 239.5 1034.8 238.0 1036.3" stroke-width="1.1" fill="none" />
<path d="M248.5 906.0 C249.9 906.9 258.2 911.4 260.5 914.0 C262.8 916.6 266.7 924.0 268.0 928.0 C269.3 932.0 271.5 943.5 271.8 948.0 C272.1 952.5 271.8 960.7 270.7 966.3 C269.6 971.9 265.1 989.6 262.5 996.0 C259.9 1002.4 251.1 1017.1 248.0 1021.5 C244.9 1025.9 237.4 1032.1 236.0 1033.5" stroke-width="1.1" fill="none" />
<path d="M199.0 878.3 L197.5 882.7 L197.5 884.9" stroke-width="1.1" fill="none" />
<line x1="199.7" y1="879" x2="231.3" y2="897.4" stroke-width="1.0" />
<line x1="197.5" y1="882.7" x2="229.8" y2="901" stroke-width="1.0" />
<path d="M198.0 883.3 l0.3 2.2" stroke-width="1.8" fill="none" />
<path d="M197.5 884.9 C196.5 885.3 190.7 886.8 188.7 888.5 C186.7 890.2 181.5 898.3 180.6 899.6" stroke-width="1.1" fill="none" />
<path d="M180.6 899.6 L180.6 903.0 L192.4 910.0" stroke-width="1.0" fill="none" />
<path d="M180.6 899.6 C181.8 900.3 189.9 905.8 192.4 906.2 C194.9 906.6 203.4 904.8 206.0 903.8 C208.6 902.8 217.2 897.0 218.8 896.2 C220.5 895.4 221.5 895.6 222.5 896.0 C223.5 896.4 228.4 899.6 229.1 900.0" stroke-width="1.0" fill="none" />
<path d="M192.4 910.0 C193.9 909.8 204.5 908.6 207.1 907.6 C209.7 906.6 217.3 900.6 218.8 899.8 C220.3 899.0 221.5 898.9 222.5 899.2 C223.5 899.5 228.3 902.8 229.1 903.0 C229.9 903.2 229.8 901.2 230.5 901.0 C231.2 900.8 235.2 901.0 236.5 901.3 C237.8 901.6 242.7 903.5 243.7 904.0 C244.7 904.5 245.9 906.6 246.5 906.8 C247.1 906.9 249.4 905.4 250.0 905.5 C250.6 905.6 252.2 907.4 252.5 907.6" stroke-width="1.1" fill="none" />
<path d="M231.0 898.0 C231.7 897.9 236.2 896.9 237.5 897.0 C238.8 897.1 243.5 899.0 244.5 899.5 C245.5 900.0 246.9 901.9 247.5 902.0 C248.1 902.1 249.8 900.8 250.5 901.0 C251.2 901.2 254.3 903.7 254.7 904.0" stroke-width="1.4" fill="none" />
<path d="M252.5 907.6 C254.5 910.7 261.9 919.8 264.3 926.0 C266.8 932.2 267.0 938.2 267.2 945.0 C267.4 951.8 266.5 964.7 265.7 967.0 C264.9 969.3 263.0 960.3 262.5 959.0" stroke-width="0.01" fill="none" />
<path d="M252.5 907.6 C253.3 908.6 258.1 913.6 259.5 916.0 C260.9 918.4 263.7 925.5 264.3 928.0 C264.9 930.5 265.0 934.8 265.0 937.0 C265.0 939.2 264.3 944.4 264.0 947.0 C263.7 949.6 263.4 954.5 262.5 959.0 C261.6 963.5 258.8 979.8 256.7 985.4 C254.6 991.0 248.0 1002.6 244.9 1007.4 C241.8 1012.2 233.4 1022.7 230.3 1026.5 C227.2 1030.3 219.9 1038.2 218.5 1039.7" stroke-width="1.1" fill="none" />
<path d="M180.6 903.5 C179.9 904.3 176.9 907.6 176.2 908.4" stroke-width="1.0" fill="none" />
<path d="M176.2 908.4 L176.2 915.0 L180.6 915.7 L183.6 912.8 L185.0 915.7 L182.8 918.6 L176.2 921.6 L176.2 926.0 L178.4 928.2 L200.5 916.4 L204.1 917.2 L203.4 923.0" stroke-width="1.1" fill="none" />
<path d="M203.4 923.0 C202.5 924.4 196.9 932.7 196.0 934.8 C195.1 936.9 195.6 939.7 196.0 940.6 C196.4 941.5 199.3 942.5 199.7 942.8" stroke-width="1.1" fill="none" />
<path d="M176.2 908.4 L187.5 903.0" stroke-width="1.0" fill="none" />
<path d="M176.2 921.6 L184.5 917.5" stroke-width="1.0" fill="none" />
<path d="M201.7 917.5 C201.6 918.1 201.9 921.0 201.0 923.0 C200.1 925.0 194.6 932.3 193.8 934.5 C193.0 936.7 193.4 940.4 193.8 941.5 C194.2 942.6 196.8 943.6 197.5 943.8 C198.2 944.0 199.4 942.9 199.7 942.8" stroke-width="1.0" fill="none" />
<path d="M199.7 942.8 C203.1 941.0 229.0 926.9 233.5 925.2 C238.0 923.5 242.7 925.0 244.5 925.7 C246.3 926.4 250.2 930.8 251.1 931.8 C252.0 932.8 253.0 933.5 253.3 936.2 C253.6 938.9 253.9 956.1 253.7 959.0 C253.4 961.9 252.1 963.9 250.8 964.9 C249.5 965.9 242.0 968.3 240.5 969.3 C239.0 970.3 236.4 974.0 236.1 975.2 C235.8 976.4 236.9 979.8 237.6 981.0 C238.3 982.2 242.3 985.6 242.7 986.9 C243.1 988.2 242.9 992.2 242.0 994.2 C241.1 996.2 235.2 1005.3 233.2 1007.4 C231.1 1009.5 223.6 1013.5 221.5 1014.8 C219.4 1016.1 213.8 1019.4 212.7 1020.6 C211.6 1021.8 210.3 1025.5 210.5 1026.5 C210.7 1027.5 214.4 1029.7 214.9 1030.9 C215.4 1032.1 215.5 1037.5 215.6 1038.2" stroke-width="1.1" fill="none" />
<path d="M245.5 927.5 C245.9 928.0 248.9 931.5 249.5 932.5 C250.1 933.5 251.3 934.4 251.5 937.0 C251.7 939.6 251.9 955.9 251.7 958.5 C251.5 961.1 250.6 962.4 249.3 963.3 C248.0 964.2 240.6 966.6 239.1 967.8 C237.6 968.9 234.6 973.4 234.3 974.8 C234.0 976.2 235.3 980.7 236.0 982.0 C236.7 983.3 240.4 986.4 240.8 987.5 C241.2 988.6 241.0 991.6 240.1 993.5 C239.2 995.4 233.7 1004.0 231.7 1006.0 C229.7 1008.0 222.5 1011.9 220.5 1013.2 C218.5 1014.5 212.5 1018.0 211.3 1019.3 C210.1 1020.6 208.3 1025.3 208.5 1026.5 C208.7 1027.7 212.5 1030.5 213.0 1031.6 C213.5 1032.6 213.4 1036.5 213.5 1037.0" stroke-width="1.0" fill="none" />
<path d="M239.3 927.4 C239.4 928.5 240.5 934.2 240.5 937.0 C240.5 939.8 240.0 947.8 239.1 951.7 C238.2 955.6 235.1 965.9 233.2 970.7 C231.3 975.5 225.8 988.0 222.9 992.8 C220.0 997.6 211.6 1007.8 208.2 1011.8 C204.8 1015.8 195.3 1025.4 193.6 1027.2" stroke-width="1.1" fill="none" />
<path d="M239.3 930.5 L245.0 935.0 L240.0 937.5 Z" stroke-width="1.0" fill="none" />
<path d="M193.6 1027.2 L192.8 1031.6 L225.9 1050.0 L230.3 1046.3" stroke-width="1.1" fill="none" />
<line x1="193.6" y1="1027.2" x2="226.6" y2="1046.3" stroke-width="1.0" />
<path d="M204.5 1013.0 L208.0 1011.5 L209.5 1015.5" stroke-width="1.0" fill="none" />
<path d="M260.3 948.6 A2.4 2.9 0 1 1 261.4 945.7" stroke-width="1.3" fill="none" />
<path d="M245.6 981.2 A2.8 3.4 0 1 1 246.8 977.8" stroke-width="1.3" fill="none" />
<path d="M230.7 1019.1 A2.4 2.9 0 1 1 231.8 1016.2" stroke-width="1.3" fill="none" />
<path d="M266.0 950.0 l3.5 -2 l1.5 6 Z" stroke-width="1.0" fill="none" />
<path d="M234.0 1031.0 l5 0.5 l-2.5 5 Z" stroke-width="1.0" fill="none" />
<path d="M274.8 952.0 l1 3.5" stroke-width="1.6" fill="none" />
<path d="M238.7 1037.5 l3 -3" stroke-width="1.0" fill="none" />
<circle cx="207" cy="835" r="12.8" stroke-width="1.1" fill="#fff"/>
<text x="207" y="842.7" font-size="21.5" text-anchor="middle">1</text>
<line x1="207" y1="847.8" x2="207" y2="877.5" stroke-width="1.0" />
<circle cx="113.6" cy="880.5" r="12.8" stroke-width="1.1" fill="#fff"/>
<text x="113.6" y="888.2" font-size="21.5" text-anchor="middle">2</text>
<line x1="113.6" y1="893.3" x2="113.6" y2="919.5" stroke-width="1.0" />
<ellipse cx="470.8" cy="1066.5" rx="5.5" ry="9.9" transform="rotate(20 470.8 1066.5)" stroke-width="1.3" fill="#fff" />
<ellipse cx="473.6" cy="1066.9" rx="5.5" ry="9.7" transform="rotate(20 473.6 1066.9)" stroke-width="1.2" fill="#fff" />
<path d="M476.0 1057.5 C476.6 1057.6 479.6 1057.6 480.5 1058.0 C481.4 1058.4 482.5 1059.8 482.8 1060.6 C483.1 1061.4 483.1 1063.0 482.6 1064.2 C482.1 1065.4 480.1 1068.3 479.2 1069.9 C478.3 1071.5 476.6 1075.1 476.2 1075.9" stroke-width="1.2" fill="#fff" />
<path d="M477.5 1062.9 C477.1 1063.4 474.8 1065.6 474.4 1066.7 C474.0 1067.8 473.9 1070.1 474.2 1070.9 C474.5 1071.7 476.6 1072.5 477.0 1072.7" stroke-width="1.1" fill="none" />
<path d="M476.7 1076.6 C475.7 1075.6 476.9 1070.5 477.4 1068.9 C477.9 1067.3 479.9 1065.4 480.7 1064.7 C481.5 1064.0 483.0 1063.8 483.7 1063.9 C484.4 1064.0 485.6 1064.7 486.2 1065.4 C486.8 1066.1 487.7 1068.0 487.9 1068.9 C488.1 1069.8 487.9 1071.4 487.5 1072.4 C487.1 1073.4 486.5 1075.9 485.1 1076.5 C483.7 1077.1 477.7 1077.6 476.7 1076.6 Z" stroke-width="1.2" fill="#fff" />
<ellipse cx="484.1" cy="1070.6" rx="3.3" ry="5.6" transform="rotate(22 484.1 1070.6)" stroke-width="1.3" fill="#fff" />
<path d="M485.0 1064.9 C485.3 1065.3 487.1 1066.8 487.5 1067.7 C487.9 1068.6 488.0 1070.8 487.8 1071.9 C487.6 1073.0 486.1 1075.4 485.8 1075.9" stroke-width="2.2" fill="none" />
<ellipse cx="562.3" cy="1072.3" rx="15.6" ry="23.0" transform="rotate(33 562.3 1072.3)" stroke-width="1.2" fill="#fff" />
<path d="M545.7 1087.7 L544.9 1086.2 L549.0 1081.3 L548.7 1080.0 L543.7 1080.9 L543.7 1078.9 L548.6 1075.7 L548.8 1074.2 L544.6 1072.7 L545.2 1070.6 L550.2 1069.5 L551.0 1068.0 L548.1 1064.5 L549.3 1062.6 L553.7 1063.8 L554.8 1062.5 L553.7 1057.5 L555.4 1056.0 L558.4 1059.3 L559.8 1058.5 L560.7 1052.6 L562.5 1051.9 L563.8 1056.8 L565.1 1056.5 L567.8 1050.8 L569.5 1050.8 L568.9 1056.6 L570.0 1056.9 L574.2 1052.2 L575.5 1053.0 L573.0 1058.8 L573.8 1059.7 L578.7 1056.6 L579.5 1058.1 L575.5 1063.0" stroke-width="1.3" fill="#fff" />
<ellipse cx="566.0" cy="1073.2" rx="12.6" ry="21.0" transform="rotate(33 566.0 1073.2)" stroke-width="1.2" fill="#fff" />
<ellipse cx="565.9" cy="1074.2" rx="9" ry="17.2" transform="rotate(33 565.9 1074.2)" stroke-width="1.2" fill="#fff" />
<path d="M576.4 1060.8 L577.0 1061.6 L577.4 1062.5 L577.7 1063.5 L577.9 1064.7 L577.9 1065.9 L577.9 1067.2 L577.7 1068.5 L577.5 1069.9 L577.1 1071.4 L576.6 1072.9 L576.0 1074.4 L575.3 1075.9 L574.5 1077.3 L573.7 1078.8 L572.7 1080.2 L571.7 1081.5" stroke-width="2.0" fill="none" />
<path d="M561.6 1089.1 L560.4 1089.4 L559.4 1089.4 L558.4 1089.3 L557.5 1089.1 L556.6 1088.7 L555.9 1088.1 L555.3 1087.4 L554.8 1086.6 L554.4 1085.7 L554.1 1084.6 L553.9 1083.4 L553.9 1082.1" stroke-width="2.0" fill="none" />
<path d="M578.2 1065.2 L578.3 1066.6 L578.2 1068.2 L577.9 1069.9 L577.5 1071.7 L576.8 1073.5 L576.0 1075.3 L575.1 1077.2 L574.0 1079.0 L572.8 1080.7 L571.5 1082.3 L570.2 1083.8 L568.8 1085.1 L567.3 1086.2 L565.9 1087.2 L564.5 1087.9 L563.1 1088.4 L561.8 1088.7 L560.6 1088.7 L559.5 1088.5 L558.6 1088.0 L557.8 1087.3 L557.1 1086.4 L556.7 1085.3 L556.4 1084.0" stroke-width="0.9" fill="none" />
</svg>
</body></html>
